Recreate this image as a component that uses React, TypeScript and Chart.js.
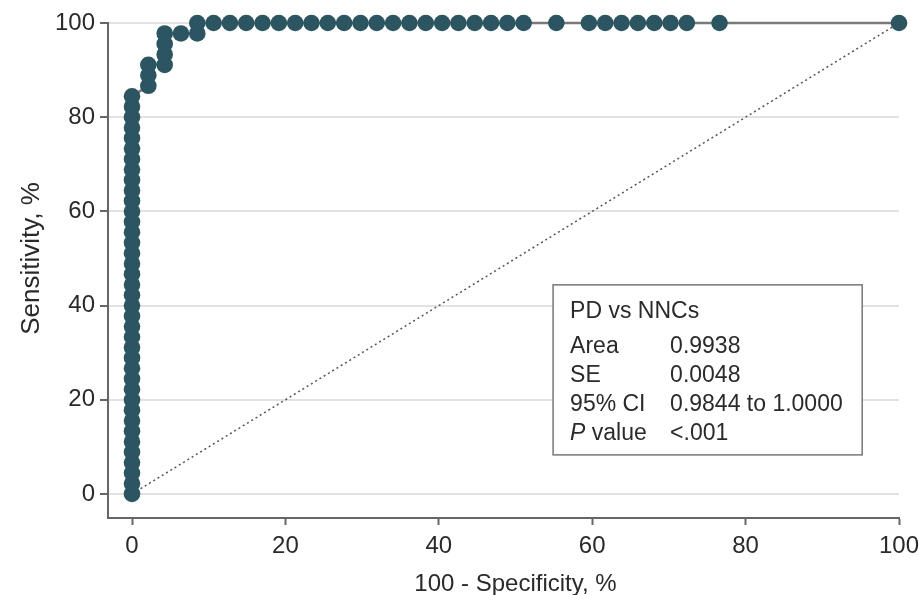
import React, { useEffect, useRef } from 'react';
import { Chart, registerables } from 'chart.js';

Chart.register(...registerables);

// ---------- data ----------
const xTicks = [0, 20, 40, 60, 80, 100];
const yTicks = [0, 20, 40, 60, 80, 100];

// ROC points: x = 100 - Specificity (%), y = Sensitivity (%)
const rocX = [
  0, 0, 0, 0, 0, 0, 0, 0, 0, 0,
  0, 0, 0, 0, 0, 0, 0, 0, 0, 0,
  0, 0, 0, 0, 0, 0, 0, 0, 0, 0,
  0, 0, 0, 0, 0, 0, 0, 0, 0,
  2.13, 2.13, 2.13,
  4.26, 4.26, 4.26, 4.26,
  6.38,
  8.51, 8.51,
  10.64, 12.77, 14.89, 17.02, 19.15, 21.28, 23.4, 25.53, 27.66, 29.79,
  31.91, 34.04, 36.17, 38.3, 40.43, 42.55, 44.68, 46.81, 48.94, 51.06,
  55.32,
  59.57, 61.7, 63.83, 65.96, 68.09, 70.21, 72.34,
  76.6,
  100,
];
const rocY = [
  0, 2.22, 4.44, 6.67, 8.89, 11.11, 13.33, 15.56, 17.78, 20,
  22.22, 24.44, 26.67, 28.89, 31.11, 33.33, 35.56, 37.78, 40, 42.22,
  44.44, 46.67, 48.89, 51.11, 53.33, 55.56, 57.78, 60, 62.22, 64.44,
  66.67, 68.89, 71.11, 73.33, 75.56, 77.78, 80, 82.22, 84.44,
  86.67, 88.89, 91.11,
  91.11, 93.33, 95.56, 97.78,
  97.78,
  97.78, 100,
  100, 100, 100, 100, 100, 100, 100, 100, 100, 100,
  100, 100, 100, 100, 100, 100, 100, 100, 100, 100,
  100,
  100, 100, 100, 100, 100, 100, 100,
  100,
  100,
];
const refX = [0, 100];
const refY = [0, 100];

const xTitle = '100 - Specificity, %';
const yTitle = 'Sensitivity, %';
const statsTitle = 'PD vs NNCs';
const statLabels = ['Area', 'SE', '95% CI', 'P value'];
const statValues = ['0.9938', '0.0048', '0.9844 to 1.0000', '<.001'];

// ---------- styles ----------
const FONT = "'Liberation Sans', Arial, sans-serif";
const TEXT = '#2a2a2a';
const POINT = '#2c5562';

const statsPlugin = {
  id: 'statsBox',
  afterDraw(chart: any) {
    const { ctx, scales } = chart;
    const x = scales.x;
    const y = scales.y;
    ctx.save();
    ctx.fillStyle = TEXT;
    ctx.textAlign = 'center';
    ctx.textBaseline = 'alphabetic';
    ctx.font = `24px ${FONT}`;
    ctx.fillText(xTitle, x.getPixelForValue(50), 591);
    ctx.save();
    ctx.font = `26px ${FONT}`;
    ctx.translate(39, y.getPixelForValue(50));
    ctx.rotate(-Math.PI / 2);
    ctx.fillText(yTitle, 0, 0);
    ctx.restore();

    // stats box
    const left = x.getPixelForValue(54.9);
    const right = x.getPixelForValue(95.2);
    const top = y.getPixelForValue(44.4);
    const bottom = y.getPixelForValue(8.3);
    ctx.fillStyle = '#ffffff';
    ctx.fillRect(left, top, right - left, bottom - top);
    ctx.strokeStyle = '#777777';
    ctx.lineWidth = 1.5;
    ctx.strokeRect(left, top, right - left, bottom - top);

    ctx.fillStyle = TEXT;
    ctx.textAlign = 'left';
    ctx.font = `23px ${FONT}`;
    const lx = left + 17;
    const vx = left + 117;
    ctx.fillText(statsTitle, lx, top + 33);
    const rowStart = top + 68;
    const rowGap = 29;
    statLabels.forEach((lab, i) => {
      const by = rowStart + i * rowGap;
      if (lab.startsWith('P ')) {
        ctx.font = `italic 23px ${FONT}`;
        ctx.fillText('P', lx, by);
        const w = ctx.measureText('P').width;
        ctx.font = `23px ${FONT}`;
        ctx.fillText(lab.slice(1), lx + w, by);
      } else {
        ctx.fillText(lab, lx, by);
      }
      ctx.fillText(statValues[i], vx, by);
    });
    ctx.restore();
  },
};

export default function App() {
  const ref = useRef<HTMLCanvasElement>(null);
  useEffect(() => {
    const canvas = ref.current;
    if (!canvas) return;
    const chart = new Chart(canvas, {
      type: 'scatter',
      data: {
        datasets: [
          {
            data: rocX.map((v, i) => ({ x: v, y: rocY[i] })),
            showLine: true,
            borderColor: '#7a7a7a',
            borderWidth: 2.5,
            pointRadius: 8.3,
            pointHoverRadius: 8.3,
            pointBackgroundColor: POINT,
            pointBorderWidth: 0,
            clip: false,
          },
          {
            data: refX.map((v, i) => ({ x: v, y: refY[i] })),
            showLine: true,
            borderColor: '#555555',
            borderWidth: 1.5,
            borderDash: [2, 3],
            pointRadius: 0,
            clip: false,
          },
        ],
      },
      options: {
        responsive: false,
        animation: false,
        devicePixelRatio: 1,
        events: [],
        layout: { padding: { top: 23, right: 20, left: 0, bottom: 0 } },
        plugins: { legend: { display: false }, tooltip: { enabled: false } },
        scales: {
          x: {
            type: 'linear',
            min: -3.13,
            max: 100,
            afterBuildTicks: (s: any) => {
              s.ticks = xTicks.map((v) => ({ value: v }));
            },
            afterFit: (s: any) => {
              s.height = 77;
              s.paddingLeft = 0;
              s.paddingRight = 0;
            },
            border: { display: true, color: '#666666', width: 2 },
            grid: {
              drawOnChartArea: false,
              drawTicks: true,
              tickLength: 7,
              tickColor: '#666666',
              tickWidth: 2,
            },
            ticks: {
              font: { family: FONT, size: 24 },
              color: TEXT,
              padding: 7,
              maxRotation: 0,
              autoSkip: false,
              callback: (v: any) => String(v),
            },
          },
          y: {
            type: 'linear',
            min: -5.1,
            max: 100,
            afterBuildTicks: (s: any) => {
              s.ticks = yTicks.map((v) => ({ value: v }));
            },
            afterFit: (s: any) => {
              s.width = 108;
              s.paddingTop = 0;
              s.paddingBottom = 0;
            },
            border: { display: true, color: '#666666', width: 2 },
            grid: {
              drawOnChartArea: true,
              drawTicks: true,
              color: '#e2e2e2',
              lineWidth: 2,
              tickLength: 8,
              tickColor: '#666666',
              tickWidth: 2,
            },
            ticks: {
              font: { family: FONT, size: 24 },
              color: TEXT,
              padding: 5,
              autoSkip: false,
              callback: (v: any) => String(v),
            },
          },
        },
      },
      plugins: [statsPlugin],
    } as any);
    return () => chart.destroy();
  }, []);
  return (
    <div style={{ position: 'fixed', left: 0, top: 0, width: 919, height: 595, background: '#fff' }}>
      <canvas ref={ref} width={919} height={595} style={{ display: 'block' }} />
    </div>
  );
}
